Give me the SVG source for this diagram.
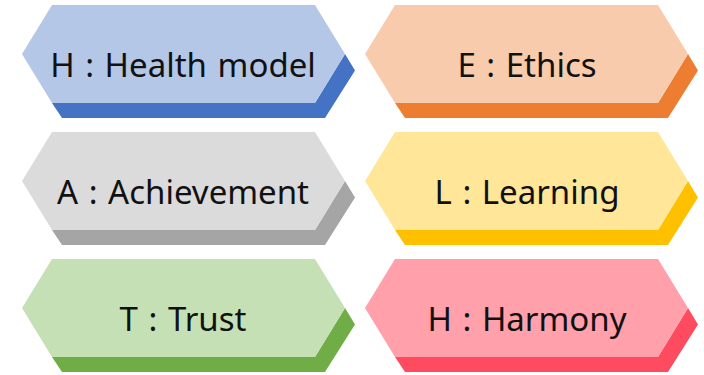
<svg xmlns="http://www.w3.org/2000/svg" xmlns:xlink="http://www.w3.org/1999/xlink" width="704" height="375" viewBox="0 0 704 375">
<style>
text{font-family:"Noto Sans","DejaVu Sans",sans-serif;font-size:33px;fill:#111;text-anchor:middle;word-spacing:2px}
</style>
<defs>
<path id="hex" d="M30,0 H293 L323,49 L293,98 H30 L0,49 Z"/>
<path id="sh" d="M323,49 L333,65.5 L303,113 H40 L30,98 H293 Z"/>
</defs>
<rect width="704" height="375" fill="#fff"/>
<g id="node-health">
<use xlink:href="#sh" x="22" y="5" fill="#4472C4"/>
<use xlink:href="#hex" x="22" y="5" fill="#B4C7E7"/>
<text x="183" y="77">H : Health model</text>
</g>
<g id="node-ethics">
<use xlink:href="#sh" x="365" y="5" fill="#ED7D31"/>
<use xlink:href="#hex" x="365" y="5" fill="#F8CBAD"/>
<text x="527" y="77">E : Ethics</text>
</g>
<g id="node-achievement">
<use xlink:href="#sh" x="22" y="132" fill="#A5A5A5"/>
<use xlink:href="#hex" x="22" y="132" fill="#DBDBDB"/>
<text x="183" y="204">A : Achievement</text>
</g>
<g id="node-learning">
<use xlink:href="#sh" x="365" y="132" fill="#FFC000"/>
<use xlink:href="#hex" x="365" y="132" fill="#FFE699"/>
<text x="527" y="204">L : Learning</text>
</g>
<g id="node-trust">
<use xlink:href="#sh" x="22" y="259" fill="#70AD47"/>
<use xlink:href="#hex" x="22" y="259" fill="#C5E0B4"/>
<text x="183" y="331">T : Trust</text>
</g>
<g id="node-harmony">
<use xlink:href="#sh" x="365" y="259" fill="#FF4B5F"/>
<use xlink:href="#hex" x="365" y="259" fill="#FFA0AA"/>
<text x="527" y="331">H : Harmony</text>
</g>
<g id="connectors"></g>
</svg>
